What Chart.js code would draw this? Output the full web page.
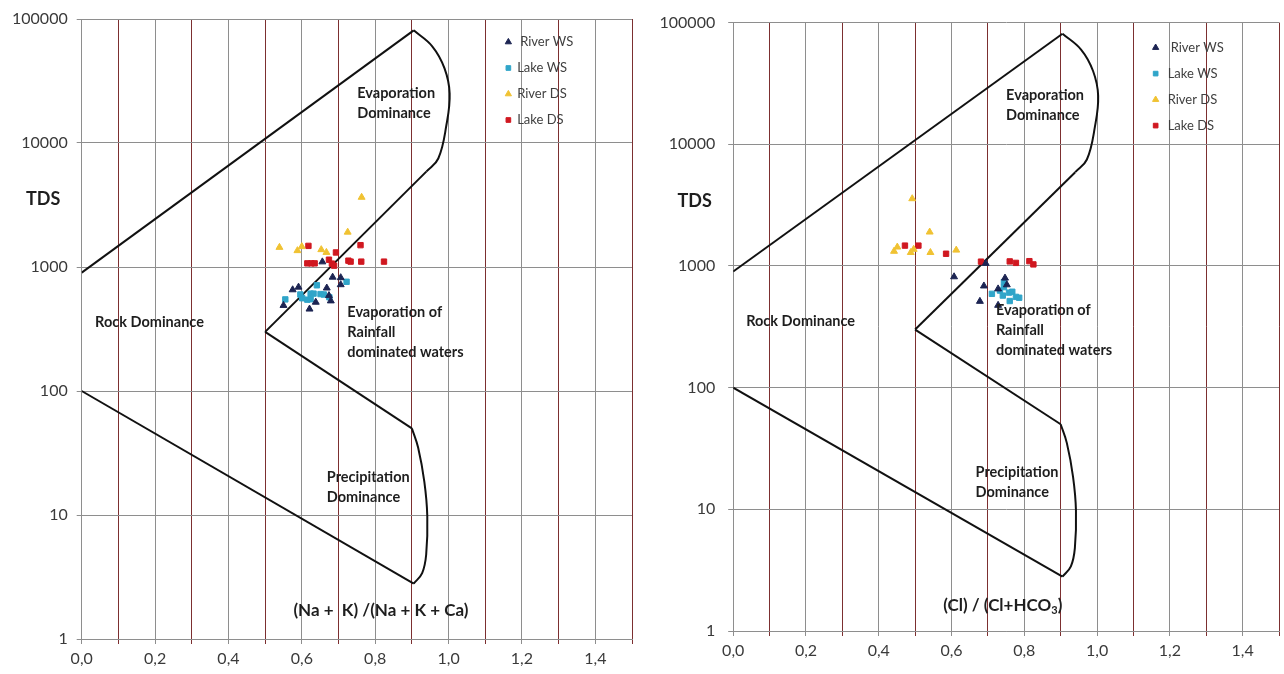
<!DOCTYPE html>
<html>
<head>
<meta charset="utf-8">
<script src="https://cdn.jsdelivr.net/npm/chart.js@4.4.0/dist/chart.umd.min.js"></script>
<style>
  html, body { margin: 0; padding: 0; background: #ffffff; }
  #wrap { position: relative; width: 1284px; height: 674px; overflow: hidden; background: #fff; }
  #c1 { position: absolute; left: 0; top: 0; }
  #c2 { position: absolute; left: 640px; top: 0; }
</style>
</head>
<body>
<div id="wrap">
  <canvas id="c1" width="640" height="674"></canvas>
  <canvas id="c2" width="644" height="674"></canvas>
</div>
<script>
// ---------------- DATA ----------------
const seriesNames = ['River WS', 'Lake WS', 'River DS', 'Lake DS'];
const yTickValues = [1, 10, 100, 1000, 10000, 100000];

// Left chart: (Na + K)/(Na + K + Ca) vs TDS
const naRiverWS = [[0.550,490],[0.575,655],[0.591,688],[0.621,458],[0.638,520],[0.656,1100],[0.668,677],[0.674,588],[0.679,533],[0.684,828],[0.706,820],[0.706,720]];
const naLakeWS  = [[0.555,548],[0.596,600],[0.601,560],[0.615,545],[0.624,550],[0.624,610],[0.632,610],[0.641,712],[0.651,605],[0.660,600],[0.675,570],[0.722,760]];
const naRiverDS = [[0.539,1440],[0.588,1355],[0.600,1460],[0.653,1380],[0.667,1312],[0.725,1910],[0.763,3650]];
const naLakeDS  = [[0.618,1480],[0.615,1070],[0.626,1070],[0.635,1070],[0.674,1145],[0.682,1065],[0.688,1025],[0.693,1310],[0.727,1125],[0.733,1105],[0.760,1500],[0.762,1105],[0.824,1105]];

// Right chart: Cl/(Cl + HCO3) vs TDS
const clRiverWS = [[0.607,815],[0.694,1050],[0.689,685],[0.678,512],[0.728,648],[0.747,795],[0.752,700],[0.728,475]];
const clLakeWS  = [[0.711,590],[0.733,628],[0.744,670],[0.741,571],[0.758,604],[0.767,614],[0.777,557],[0.786,548],[0.760,515],[0.744,738]];
const clRiverDS = [[0.442,1320],[0.451,1430],[0.488,1290],[0.496,1370],[0.492,3570],[0.540,1900],[0.542,1290],[0.613,1350]];
const clLakeDS  = [[0.472,1470],[0.509,1470],[0.585,1260],[0.681,1085],[0.760,1090],[0.777,1060],[0.814,1095],[0.825,1030]];

// Gibbs boundary (same for both diagrams)
const upperLine   = [[0,900],[0.905,81000]];
const evapCurve   = [[0.905,81000],[0.956,60000],[0.989,40000],[1.003,25000],[0.994,13900],[0.972,7500],[0.94,5900]];
const midDiag     = [[0.94,5900],[0.5,300]];
const lowerDiag   = [[0.5,300],[0.9,50]];
const precipCurve = [[0.9,50],[0.917,35],[0.934,18.5],[0.942,9.8],[0.939,4.8],[0.928,3.4],[0.905,2.8]];
const bottomLine  = [[0.905,2.8],[0,100]];

// Region labels
const evapDomText   = ['Evaporation', 'Dominance'];
const rockDomText   = ['Rock Dominance'];
const evapRainText  = ['Evaporation of', 'Rainfall', 'dominated waters'];
const precipDomText = ['Precipitation', 'Dominance'];
const yTitleText = 'TDS';
const xTitleLeft = '(Na +  K) /(Na + K + Ca)';
const xTitleRight = ['(Cl) / (Cl+HCO', '3', ')'];

// ---------------- HELPERS ----------------
const FONT = 'Lato, "Open Sans", sans-serif';
const colors = { riverWS: '#1c2452', lakeWS: '#30a5c9', riverDS: '#f0c232', lakeDS: '#d01820' };
const toXY = arr => arr.map(p => ({ x: p[0], y: p[1] }));

function boundarySet(arr, tension) {
  return { type: 'scatter', data: toXY(arr), showLine: true, borderColor: '#111', borderWidth: 2,
           pointRadius: 0, pointHoverRadius: 0, tension: tension, fill: false, order: 10 };
}
function pointSet(label, arr, color, style) {
  return { type: 'scatter', label: label, data: toXY(arr), backgroundColor: color, borderColor: color,
           borderWidth: 1, pointStyle: style, pointRadius: style === 'triangle' ? 4 : 3.8, order: 1 };
}

const annotPlugin = {
  id: 'annot',
  afterDatasetsDraw(chart) {
    const o = chart.options.plugins.annot;
    const { ctx, chartArea } = chart;
    const xs = chart.scales.x, ys = chart.scales.y;
    ctx.save();
    ctx.textBaseline = 'middle';
    ctx.textAlign = 'left';
    ctx.fillStyle = '#1e1e1e';
    ctx.font = 'bold 14.5px ' + FONT;
    o.blocks.forEach(b => {
      const px = xs.getPixelForValue(b.x), py = ys.getPixelForValue(b.y);
      b.lines.forEach((l, i) => ctx.fillText(l, px, py + i * 20));
    });
    // y title
    ctx.font = 'bold 18px ' + FONT;
    ctx.textAlign = 'center';
    ctx.fillText(yTitleText, chartArea.left - 38.5, ys.getPixelForValue(o.yTitleY));
    // x title
    ctx.textAlign = 'left';
    const tx = xs.getPixelForValue(o.xTitle.x), ty = ys.getPixelForValue(o.xTitle.y);
    ctx.font = 'bold 17px ' + FONT;
    if (Array.isArray(o.xTitle.text)) {
      let cx = tx;
      ctx.fillText(o.xTitle.text[0], cx, ty); cx += ctx.measureText(o.xTitle.text[0]).width;
      ctx.font = 'bold 11px ' + FONT;
      ctx.fillText(o.xTitle.text[1], cx, ty + 5); cx += ctx.measureText(o.xTitle.text[1]).width;
      ctx.font = 'bold 17px ' + FONT;
      ctx.fillText(o.xTitle.text[2], cx, ty);
    } else {
      ctx.fillText(o.xTitle.text, tx, ty);
    }
    // legend
    const lg = o.legend;
    const mx = xs.getPixelForValue(lg.markerX), lx = xs.getPixelForValue(lg.textX);
    ctx.font = '13px ' + FONT;
    chart.data.datasets.filter(d => d.label).forEach((d, i) => {
      const yy = chartArea.top + lg.top + i * 26;
      ctx.fillStyle = d.backgroundColor; ctx.strokeStyle = d.borderColor; ctx.lineWidth = 1;
      Chart.helpers.drawPoint(ctx, { pointStyle: d.pointStyle, radius: d.pointStyle === 'triangle' ? 3.6 : 3.3, rotation: 0, borderWidth: 1 }, mx, yy);
      ctx.fillStyle = '#404040';
      ctx.fillText(d.label, lx + (i === 0 ? 3 : 0), yy);
    });
    ctx.restore();
  }
};

function makeChart(id, sets, cfg) {
  const datasets = [
    boundarySet(upperLine, 0), boundarySet(evapCurve, 0.4), boundarySet(midDiag, 0),
    boundarySet(lowerDiag, 0), boundarySet(precipCurve, 0.4), boundarySet(bottomLine, 0),
    pointSet(seriesNames[0], sets[0], colors.riverWS, 'triangle'),
    pointSet(seriesNames[1], sets[1], colors.lakeWS, 'rect'),
    pointSet(seriesNames[2], sets[2], colors.riverDS, 'triangle'),
    pointSet(seriesNames[3], sets[3], colors.lakeDS, 'rect')
  ];
  return new Chart(document.getElementById(id), {
    type: 'scatter',
    data: { datasets },
    plugins: [annotPlugin],
    options: {
      responsive: false, animation: false, devicePixelRatio: 1,
      layout: { padding: { left: 0, right: cfg.padRight, top: cfg.padTop, bottom: 0 } },
      plugins: {
        legend: { display: false }, tooltip: { enabled: false },
        annot: cfg.annot
      },
      scales: {
        x: {
          type: 'linear', min: 0, max: 1.5,
          ticks: {
            stepSize: 0.1, color: '#3a3a3a', font: { family: FONT, size: 16 }, padding: 5, maxRotation: 0, autoSkip: false,
            callback: v => { const k = Math.round(v * 10); return (k % 2 === 0 && k < 15) ? (k / 10).toFixed(1).replace('.', ',') : ''; }
          },
          grid: {
            color: c => (c.tick && Math.round(c.tick.value * 10) % 2 === 1) ? '#7c2f30' : '#8e8e8e',
            lineWidth: 1, tickLength: 5
          },
          border: { display: true, color: '#8e8e8e', width: 1 },
          afterFit: s => { s.height = cfg.xAxisH; }
        },
        y: {
          type: 'logarithmic', min: 1, max: 100000,
          afterBuildTicks: s => { s.ticks = yTickValues.map(v => ({ value: v })); },
          ticks: { color: '#3a3a3a', font: { family: FONT, size: 16 }, padding: cfg.yPad, callback: v => String(v) },
          grid: { color: '#8e8e8e', lineWidth: 1, tickLength: 5 },
          border: { display: true, color: '#8e8e8e', width: 1 },
          afterFit: s => { s.width = cfg.yAxisW; }
        }
      }
    }
  });
}

makeChart('c1', [naRiverWS, naLakeWS, naRiverDS, naLakeDS], {
  padRight: 8, padTop: 19, xAxisH: 35, yAxisW: 81.7, yPad: 9,
  annot: {
    blocks: [
      { x: 0.751, y: 25300, lines: evapDomText },
      { x: 0.0365, y: 360, lines: rockDomText },
      { x: 0.724, y: 432, lines: evapRainText },
      { x: 0.668, y: 20, lines: precipDomText }
    ],
    yTitleY: 3530,
    xTitle: { x: 0.577, y: 1.69, text: xTitleLeft },
    legend: { markerX: 1.163, textX: 1.187, top: 23 }
  }
});

makeChart('c2', [clRiverWS, clLakeWS, clRiverDS, clLakeDS], {
  padRight: 1, padTop: 11, xAxisH: 43, yAxisW: 93.2, yPad: 13,
  annot: {
    blocks: [
      { x: 0.75, y: 25100, lines: evapDomText },
      { x: 0.0357, y: 352, lines: rockDomText },
      { x: 0.722, y: 434, lines: evapRainText },
      { x: 0.666, y: 20.1, lines: precipDomText }
    ],
    yTitleY: 3400,
    xTitle: { x: 0.577, y: 1.63, text: xTitleRight },
    legend: { markerX: 1.161, textX: 1.194, top: 25 }
  }
});
</script>
</body>
</html>
